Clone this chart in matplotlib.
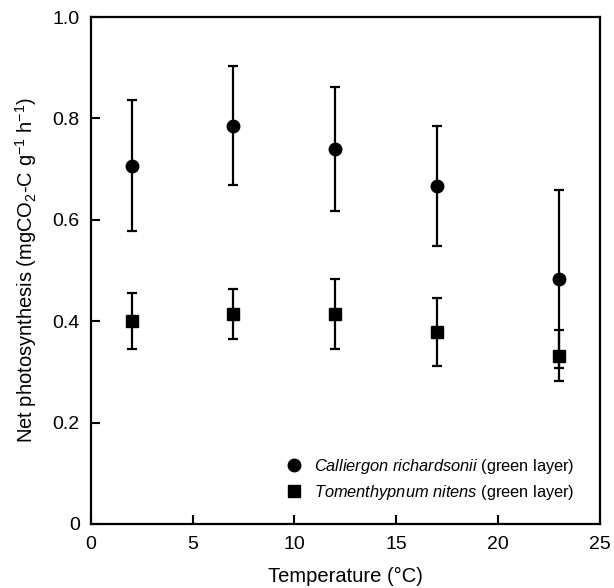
import numpy as np
import matplotlib
matplotlib.use('Agg')
import matplotlib.pyplot as plt

plt.rcParams['font.family'] = ['Liberation Sans', 'DejaVu Sans']
plt.rcParams['mathtext.fontset'] = 'custom'
plt.rcParams['mathtext.rm'] = 'Liberation Sans'
plt.rcParams['mathtext.it'] = 'Liberation Sans:italic'

# temperatures (deg C)
temp = [2, 7, 12, 17, 23]

# Calliergon richardsonii, green layer: mean and error
calli_mean = [0.707, 0.786, 0.740, 0.667, 0.483]
calli_err = [0.129, 0.117, 0.122, 0.119, 0.175]

# Tomenthypnum nitens, green layer: mean and error
tomen_mean = [0.400, 0.414, 0.414, 0.379, 0.332]
tomen_err = [0.055, 0.050, 0.069, 0.067, 0.050]

fig = plt.figure(figsize=(6.14, 5.88), dpi=100)
ax = fig.add_axes([0.148, 0.109, 0.829, 0.862])

eb1 = ax.errorbar(temp, calli_mean, yerr=calli_err, fmt='o', color='black',
                  markersize=9, elinewidth=1.6, capsize=3.5, capthick=1.6)
eb2 = ax.errorbar(temp, tomen_mean, yerr=tomen_err, fmt='s', color='black',
                  markersize=8.5, elinewidth=1.6, capsize=3.5, capthick=1.6)

ax.set_xlim(0, 25)
ax.set_ylim(0, 1.0)
ax.set_xticks([0, 5, 10, 15, 20, 25])
ax.set_yticks([0, 0.2, 0.4, 0.6, 0.8, 1.0])
ax.set_yticklabels(['0', '0.2', '0.4', '0.6', '0.8', '1.0'])

for s in ax.spines.values():
    s.set_linewidth(1.6)
ax.tick_params(direction='in', length=6.5, width=1.5, labelsize=14)
ax.tick_params(axis='x', pad=9)
ax.tick_params(axis='y', pad=8)

ax.set_xlabel('Temperature (°C)', fontsize=14.5, labelpad=10)
ax.set_ylabel(r'Net photosynthesis (mgCO$_\mathrm{2}$-C g$^\mathrm{-1}$ h$^\mathrm{-1}$)',
              fontsize=14.5, labelpad=10)

# legend shows markers only, without the error bars
ax.legend([eb1[0], eb2[0]],
          [r'$\mathit{Calliergon\ richardsonii}$ (green layer)',
           r'$\mathit{Tomenthypnum\ nitens}$ (green layer)'],
          loc='lower right', frameon=False, fontsize=11.8,
          handlelength=1.0, handletextpad=0.75, borderaxespad=0.5,
          labelspacing=0.4, bbox_to_anchor=(0.98, 0.015))

fig.savefig('out.png', dpi=100)
